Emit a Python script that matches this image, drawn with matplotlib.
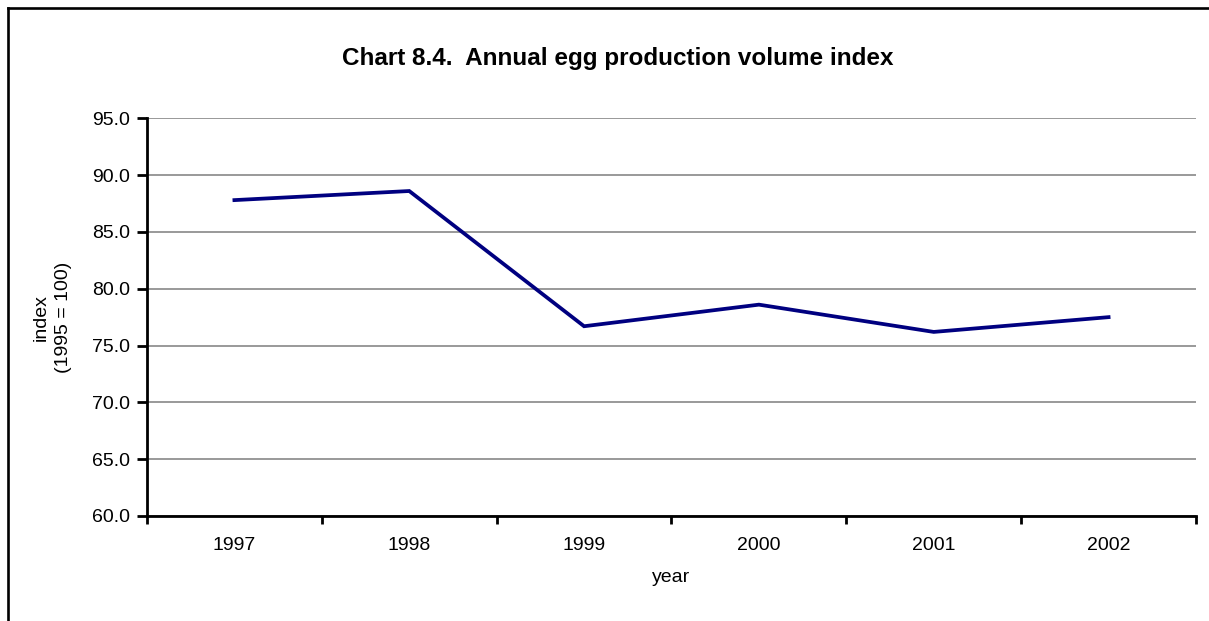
import matplotlib
matplotlib.use("Agg")
import matplotlib.pyplot as plt
from matplotlib.ticker import FixedLocator, MultipleLocator, FormatStrFormatter
from matplotlib.lines import Line2D

plt.rcParams['font.family'] = ['Liberation Sans', 'DejaVu Sans']

years = ["1997", "1998", "1999", "2000", "2001", "2002"]
index_values = [87.8, 88.6, 76.7, 78.6, 76.2, 77.5]

title = "Chart 8.4.  Annual egg production volume index"
ylabel = "index\n(1995 = 100)"
xlabel = "year"

W, H = 1209, 621
fig = plt.figure(figsize=(W / 100, H / 100), dpi=100)
fig.patch.set_facecolor("white")

# Outer chart frame (top and left edges visible)
fig.add_artist(Line2D([7.5 / W, 1.0], [1 - 8 / H, 1 - 8 / H], color="black", lw=1.9,
                      transform=fig.transFigure))
fig.add_artist(Line2D([7.5 / W, 7.5 / W], [0.0, 1 - 8 / H], color="black", lw=1.9,
                      transform=fig.transFigure))

ax = fig.add_axes([147 / W, 1 - 516 / H, (1196 - 147) / W, (516 - 118.3) / H])

x = list(range(len(years)))
ax.plot(x, index_values, color="#000080", lw=2.7, solid_joinstyle="miter", zorder=3)

ax.set_xlim(-0.5, len(years) - 0.5)
ax.set_ylim(60, 95)

ax.yaxis.set_major_locator(MultipleLocator(5))
ax.yaxis.set_major_formatter(FormatStrFormatter("%.1f"))
ax.grid(axis="y", color="#999999", lw=1.4, zorder=1)

# category labels centred, tick marks on category boundaries
ax.set_xticks(x)
ax.set_xticklabels(years)
ax.xaxis.set_minor_locator(FixedLocator([i - 0.5 for i in range(len(years) + 1)]))
ax.tick_params(axis="x", which="major", length=0, pad=15, labelsize=14)
ax.tick_params(axis="x", which="minor", length=6, width=2, direction="out", color="black")
ax.tick_params(axis="y", which="major", length=7, width=2, direction="out", pad=5.5,
               labelsize=14, color="black")

for side in ("top", "right"):
    ax.spines[side].set_visible(False)
for side in ("left", "bottom"):
    ax.spines[side].set_linewidth(2)
    ax.spines[side].set_zorder(4)

ax.set_xlabel(xlabel, fontsize=14, labelpad=11)
ax.set_ylabel(ylabel, fontsize=14, labelpad=14, linespacing=1.4)

fig.text(618 / W, 1 - 58 / H, title, ha="center", va="center", fontsize=17.5,
         fontweight="bold")

fig.savefig("out.png", dpi=100)
